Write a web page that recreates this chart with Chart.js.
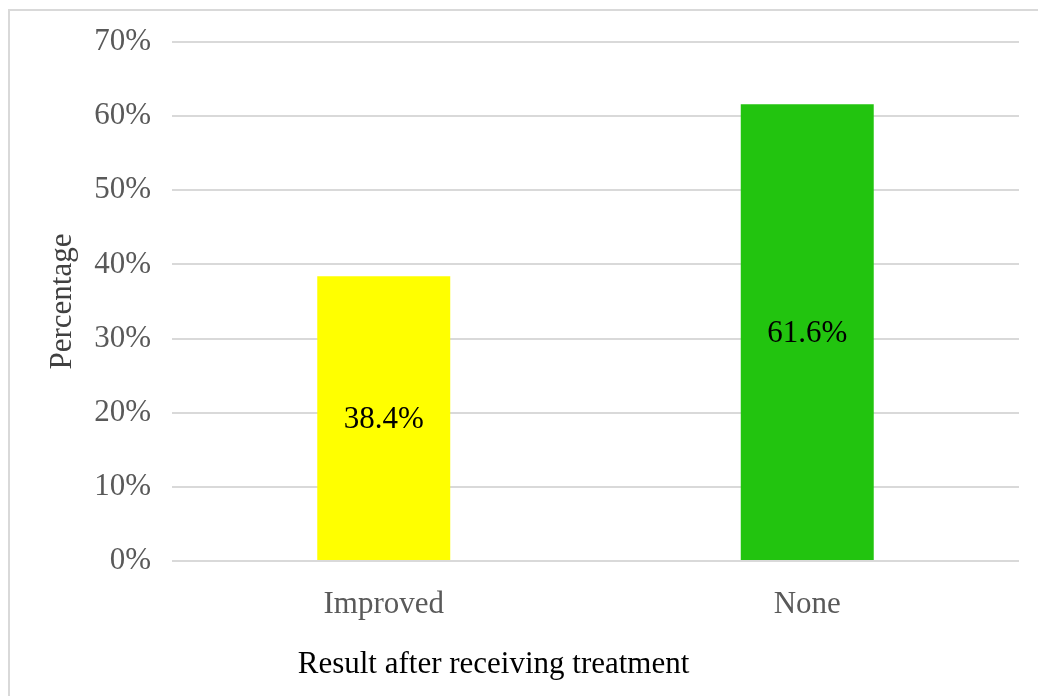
<!DOCTYPE html>
<html>
<head>
<meta charset="utf-8">
<title>Result after receiving treatment</title>
<script src="https://cdn.jsdelivr.net/npm/chart.js@4/dist/chart.umd.min.js"></script>
<style>
  html, body { margin: 0; padding: 0; background: #ffffff; overflow: hidden; }
  #wrap { position: relative; width: 1038px; height: 696px; }
  #frame {
    position: absolute; left: 8px; top: 9px; width: 1200px; height: 800px;
    border: 2px solid #d9d9d9; box-sizing: border-box;
  }
  #chart { position: absolute; left: 0; top: 0; }
</style>
</head>
<body>
<div id="wrap">
  <div id="frame"></div>
  <canvas id="chart" width="1038" height="696"></canvas>
</div>
<script>
// Share of patients by outcome after treatment (%)
const categories = ['Improved', 'None'];
const percentages = [38.4, 61.6];
const barColors = ['#ffff00', '#22c40f'];
const yTickValues = [0, 10, 20, 30, 40, 50, 60, 70];
const xAxisTitle = 'Result after receiving treatment';
const yAxisTitle = 'Percentage';

const SERIF = '"Liberation Serif", "Times New Roman", Times, serif';

// Writes each bar's value in the middle of the bar
const barValueLabels = {
  id: 'barValueLabels',
  afterDatasetsDraw(chart) {
    const ctx = chart.ctx;
    const meta = chart.getDatasetMeta(0);
    ctx.save();
    ctx.font = '31px ' + SERIF;
    ctx.fillStyle = '#000000';
    ctx.textAlign = 'center';
    ctx.textBaseline = 'middle';
    meta.data.forEach((bar, i) => {
      const v = chart.data.datasets[0].data[i];
      ctx.fillText(v.toFixed(1) + '%', bar.x, (bar.y + bar.base) / 2 + 2);
    });
    ctx.restore();
  }
};

// Horizontal axis title, placed below the category labels
const bottomAxisTitle = {
  id: 'bottomAxisTitle',
  afterDraw(chart) {
    const a = chart.chartArea;
    const ctx = chart.ctx;
    ctx.save();
    ctx.font = '31px ' + SERIF;
    ctx.fillStyle = '#000000';
    ctx.textAlign = 'center';
    ctx.textBaseline = 'middle';
    ctx.fillText(xAxisTitle, a.left + a.width * 0.3796, a.bottom + 104);
    ctx.restore();
  }
};

new Chart(document.getElementById('chart'), {
  type: 'bar',
  data: {
    labels: categories,
    datasets: [{
      data: percentages,
      backgroundColor: barColors,
      borderWidth: 0,
      barPercentage: 0.314,
      categoryPercentage: 1.0
    }]
  },
  options: {
    responsive: false,
    animation: false,
    events: [],
    layout: { padding: { left: 20, top: 42, right: 19, bottom: 0 } },
    plugins: {
      legend: { display: false },
      tooltip: { enabled: false },
      title: { display: false }
    },
    scales: {
      x: {
        grid: { display: false, drawTicks: false },
        border: { display: false },
        ticks: {
          color: '#595959',
          padding: 25,
          font: { family: SERIF, size: 31 }
        },
        afterFit(scale) { scale.height = 135; }
      },
      y: {
        min: yTickValues[0],
        max: yTickValues[yTickValues.length - 1],
        afterBuildTicks(scale) {
          scale.ticks = yTickValues.map(v => ({ value: v }));
        },
        grid: { color: '#d9d9d9', lineWidth: 2, drawTicks: false },
        border: { display: false },
        ticks: {
          color: '#595959',
          padding: 21,
          font: { family: SERIF, size: 31 },
          callback: v => v + '%'
        },
        title: {
          display: true,
          text: yAxisTitle,
          color: '#404040',
          padding: { top: 24, bottom: 0 },
          font: { family: SERIF, size: 31 }
        },
        afterFit(scale) { scale.width = 152; }
      }
    }
  },
  plugins: [barValueLabels, bottomAxisTitle]
});
</script>
</body>
</html>
